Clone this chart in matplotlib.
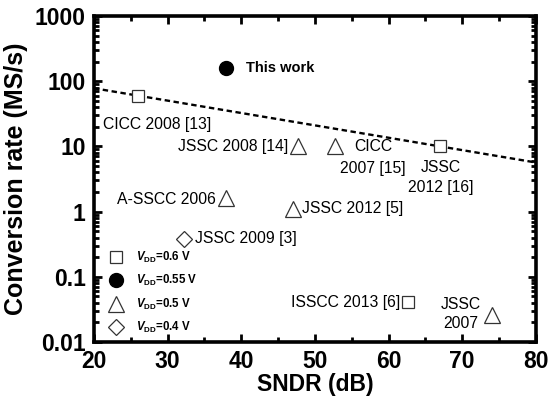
import matplotlib.pyplot as plt
import numpy as np

### Data ---------------------------------------------------------------------

sq_sndr = [26, 67, 62.6]          # VDD = 0.6 V
sq_rate = [60, 10, 0.041]
sq_names = ["CICC 2008 [13]", "JSSC\n2012 [16]", "ISSCC 2013 [6]"]

this_sndr = [38]                  # VDD = 0.55 V
this_rate = [160]

tri_sndr = [47.7, 52.7, 38, 47, 74]   # VDD = 0.5 V
tri_rate = [10, 10, 1.6, 1.1, 0.026]
tri_names = ["JSSC 2008 [14]", "CICC\n2007 [15]", "A-SSCC 2006", "JSSC 2012 [5]", "JSSC\n2007"]

dia_sndr = [32.3]                 # VDD = 0.4 V
dia_rate = [0.38]
dia_names = ["JSSC 2009 [3]"]

trend_sndr = [20, 80]
trend_anchor = [(26, 60), (67, 10)]

legend_labels = ["0.6 V", "0.55 V", "0.5 V", "0.4 V"]

### Style --------------------------------------------------------------------

plt.rcParams["font.family"] = ["Liberation Sans", "DejaVu Sans"]
plt.rcParams["mathtext.fontset"] = "custom"
plt.rcParams["mathtext.rm"] = "Liberation Sans:bold"
plt.rcParams["mathtext.bf"] = "Liberation Sans:bold"
plt.rcParams["mathtext.it"] = "Liberation Sans:italic:bold"
narrow = ["Liberation Sans Narrow", "Liberation Sans"]

fig = plt.figure(figsize=(5.49, 4.0), dpi=100)
ax = fig.add_axes([0.171, 0.145, 0.805, 0.815])

# trend line through the two anchor points, extended to axis limits
(x0, y0), (x1, y1) = trend_anchor
slope = (np.log10(y1) - np.log10(y0)) / (x1 - x0)
trend_rate = [10 ** (np.log10(y0) + slope * (x - x0)) for x in trend_sndr]
ax.plot(trend_sndr, trend_rate, color="black", lw=1.7, ls=(0, (2.3, 1.5)), zorder=1)

ax.plot(sq_sndr, sq_rate, ls="none", marker="s", ms=8.5, mfc="white", mec="#333333", mew=0.9, zorder=3)
ax.plot(this_sndr, this_rate, ls="none", marker="o", ms=10, mfc="black", mec="black", zorder=3)
ax.plot(tri_sndr, tri_rate, ls="none", marker="^", ms=12, mfc="white", mec="#333333", mew=0.9, zorder=3)
ax.plot(dia_sndr, dia_rate, ls="none", marker="D", ms=8.5, mfc="white", mec="#333333", mew=0.9, zorder=3)

ax.set_yscale("log")
ax.set_xlim(20, 80)
ax.set_ylim(0.01, 1000)
ax.set_xticks([20, 30, 40, 50, 60, 70, 80])
ax.set_xticks([25, 35, 45, 55, 65, 75], minor=True)
ax.set_yticks([0.01, 0.1, 1, 10, 100, 1000])
ax.set_yticklabels(["0.01", "0.1", "1", "10", "100", "1000"])

for s in ax.spines.values():
    s.set_linewidth(2.6)
ax.tick_params(which="both", direction="in", top=True, right=True, width=2)
ax.tick_params(which="major", length=6)
ax.tick_params(which="minor", length=3.5)
ax.tick_params(axis="x", which="major", pad=6)
ax.tick_params(axis="y", which="major", pad=6)
for lab in ax.get_xticklabels() + ax.get_yticklabels():
    lab.set_fontweight("bold")
    lab.set_fontfamily(narrow)
    lab.set_fontsize(16.5)

ax.set_xlabel("SNDR (dB)", fontsize=16.5, fontweight="bold", family=narrow, labelpad=0)
ax.set_ylabel("Conversion rate (MS/s)", fontsize=18, fontweight="bold", labelpad=5)

### Annotations --------------------------------------------------------------

fs = 11.3
ax.text(40.6, 160, "This work", fontsize=10.5, fontweight="bold", va="center")
ax.text(21.3, 22, sq_names[0], fontsize=fs, va="center")
ax.text(67.1, 3.3, sq_names[1], fontsize=fs, va="center", ha="center", linespacing=1.45)
ax.text(61.6, 0.041, sq_names[2], fontsize=fs, va="center", ha="right")
ax.text(46.4, 10, tri_names[0], fontsize=fs, va="center", ha="right")
ax.text(57.9, 6.7, tri_names[1], fontsize=fs, va="center", ha="center", linespacing=1.55)
ax.text(36.6, 1.55, tri_names[2], fontsize=fs, va="center", ha="right")
ax.text(48.3, 1.1, tri_names[3], fontsize=fs, va="center")
ax.text(33.7, 0.38, dia_names[0], fontsize=fs, va="center")
ax.text(69.8, 0.027, tri_names[4], fontsize=fs, va="center", ha="center", linespacing=1.3)

### Legend -------------------------------------------------------------------

h_sq = plt.Line2D([], [], ls="none", marker="s", ms=8.5, mfc="white", mec="#333333", mew=0.9)
h_ci = plt.Line2D([], [], ls="none", marker="o", ms=10, mfc="black", mec="black")
h_tr = plt.Line2D([], [], ls="none", marker="^", ms=12, mfc="white", mec="#333333", mew=0.9)
h_di = plt.Line2D([], [], ls="none", marker="D", ms=8.5, mfc="white", mec="#333333", mew=0.9)
labels = [r"$\mathit{V}_{\mathrm{DD}}$=" + v for v in legend_labels]
leg = ax.legend([h_sq, h_ci, h_tr, h_di], labels, loc="lower left",
                bbox_to_anchor=(0.015, 0.0), frameon=False, fontsize=8.3,
                handletextpad=1.0, labelspacing=0.72, borderaxespad=0.2,
                handlelength=1.5)
for t in leg.get_texts():
    t.set_fontweight("bold")

fig.savefig("out.png", dpi=100)
